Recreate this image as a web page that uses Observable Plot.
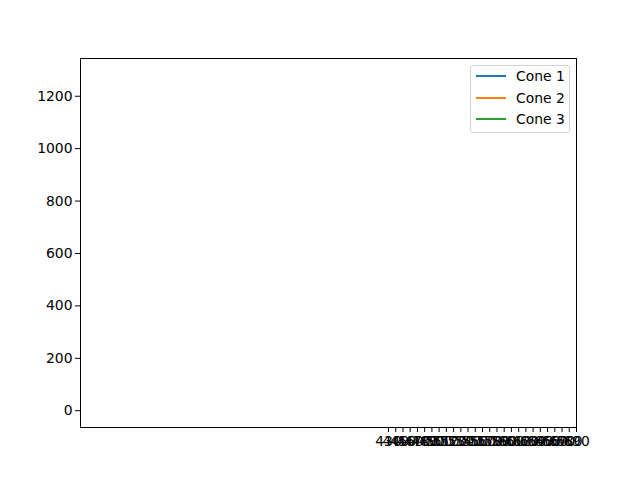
<!DOCTYPE html>
<html><head><meta charset="utf-8">
<script src="https://cdn.jsdelivr.net/npm/d3@7"></script>
<script src="https://cdn.jsdelivr.net/npm/@observablehq/plot@0.6"></script>
<style>
body{margin:0;background:#fff;font-family:"DejaVu Sans",sans-serif}
#wrap{position:relative;width:640px;height:480px}
#legend{position:absolute;left:470px;top:65px;width:98px;height:66px;border:1px solid #d5d5d5;border-radius:3px;background:rgba(255,255,255,0.8);font-size:13.9px;color:#000}
.row{position:absolute;left:0;height:20px;display:flex;align-items:center}
.sw{width:30px;height:0;border-top:2px solid;margin-left:5px;margin-right:10px}
</style></head><body><div id="wrap"></div>
<script>
const series = ["Cone 1", "Cone 2", "Cone 3"];
const colors = ["#1f77b4", "#ff7f0e", "#2ca02c"];
const xTicks = [430,440,450,460,470,480,490,500,510,520,530,540,550,560,570,580,590,600,610,620,630,640,650,660,670,680,690];
const yTicks = [0,200,400,600,800,1000,1200];
const xDomain = [4, 690];
const yDomain = [-64, 1344];
// No visible line data in the reference
const cone1 = [];
const cone2 = [];
const cone3 = [];

const rows = [];
[cone1, cone2, cone3].forEach((arr, i) => arr.forEach(d => rows.push({x: d[0], y: d[1], s: series[i]})));

const chart = Plot.plot({
  width: 640, height: 480,
  marginLeft: 80, marginRight: 64, marginTop: 58, marginBottom: 53,
  style: {fontFamily: "DejaVu Sans", fontSize: "13.9px", color: "#000", background: "#fff"},
  x: {domain: xDomain, ticks: xTicks, tickFormat: d => String(d), label: null, tickSize: 5, tickPadding: 4},
  y: {domain: yDomain, ticks: yTicks, tickFormat: d => String(d), label: null, tickSize: 5, tickPadding: 3},
  color: {domain: series, range: colors},
  marks: [
    Plot.line(rows, {x: "x", y: "y", stroke: "s", strokeWidth: 1.5}),
    Plot.frame({stroke: "#000", strokeWidth: 1})
  ]
});
const wrap = document.getElementById("wrap");
wrap.appendChild(chart);
const lg = document.createElement("div");
lg.id = "legend";
const tops = [0, 22, 43];
series.forEach((s, i) => {
  const r = document.createElement("div");
  r.className = "row";
  r.style.top = tops[i] + "px";
  const sw = document.createElement("span");
  sw.className = "sw";
  sw.style.borderColor = colors[i];
  const t = document.createElement("span");
  t.textContent = s;
  r.appendChild(sw); r.appendChild(t);
  lg.appendChild(r);
});
wrap.appendChild(lg);
</script></body></html>
